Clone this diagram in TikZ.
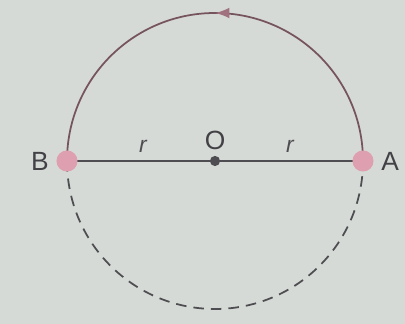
\documentclass[tikz,border=0pt]{standalone}
\usepackage{fontspec}
\setmainfont{Liberation Sans}
\usetikzlibrary{arrows.meta,decorations.markings}
\definecolor{paper}{RGB}{214,218,214}
\definecolor{inkgray}{RGB}{78,78,82}
\definecolor{arcred}{RGB}{118,84,94}
\definecolor{dotpink}{RGB}{222,160,176}

\tikzset{
  endpt/.style={circle, fill=dotpink, minimum size=12pt, inner sep=0pt},
  ctr/.style={circle, fill=inkgray, minimum size=5.8pt, inner sep=0pt},
  lbl/.style={font=\fontsize{15}{18}\selectfont, text=inkgray!85!black, inner sep=1pt},
  rlbl/.style={font=\fontsize{13}{15}\selectfont\itshape, text=inkgray, inner sep=1pt}
}

\begin{document}
\begin{tikzpicture}[x=0.02cm, y=0.02cm, >=Latex]
  \fill[paper] (0,0) rectangle (405,324);
  \useasboundingbox (0,0) rectangle (405,324);
  % centre and ends of the diameter
  \coordinate (O) at (215,163);
  \coordinate (A) at (363,163);
  \coordinate (B) at (67,163);
  % upper half, travelled from A to B
  \draw[arcred, line width=1pt, postaction={decorate},
        decoration={markings, mark=at position 0.5 with {\arrow[arcred!60!dotpink, scale=1.1]{Latex}}}]
    (A) arc[start angle=0, end angle=180, radius=148];
  % lower half
  \draw[inkgray, line width=1pt, dash pattern=on 6pt off 4pt]
    (B) arc[start angle=180, end angle=360, radius=148];
  \draw[inkgray, line width=1pt] (B) -- (A);
  \node[endpt] (pB) at (B) {};
  \node[endpt] (pA) at (A) {};
  \node[ctr] (pO) at (O) {};
  \node[lbl, above=5pt] at (pO) {O};
  \node[lbl, left=3pt] at (pB.west) {B};
  \node[lbl, right=3pt] at (pA.east) {A};
  \node[rlbl] at (143,178) {r};
  \node[rlbl] at (290,178) {r};
\end{tikzpicture}
\end{document}
